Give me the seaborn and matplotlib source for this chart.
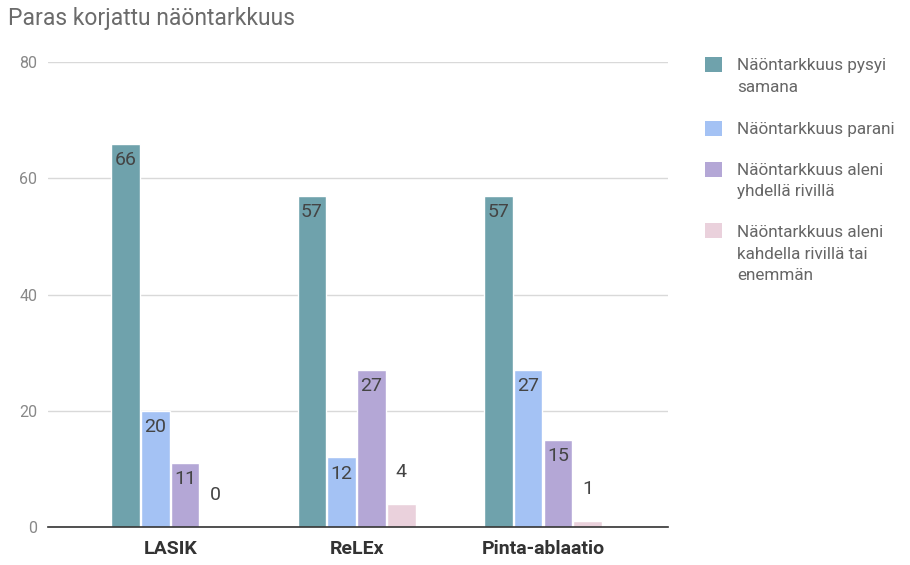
import seaborn as sns
import matplotlib.pyplot as plt
import pandas as pd
from matplotlib.legend_handler import HandlerPatch
from matplotlib.patches import Rectangle

methods = ["LASIK", "ReLEx", "Pinta-ablaatio"]
outcomes = [
    "Näöntarkkuus pysyi\nsamana",
    "Näöntarkkuus parani",
    "Näöntarkkuus aleni\nyhdellä rivillä",
    "Näöntarkkuus aleni\nkahdella rivillä tai\nenemmän",
]
pysyi = [66, 57, 57]
parani = [20, 12, 27]
aleni_1 = [11, 27, 15]
aleni_2 = [0, 4, 1]

colors = ["#6fa2ac", "#a4c2f4", "#b4a7d6", "#ead1dc"]

rows = []
for outcome, vals in zip(outcomes, [pysyi, parani, aleni_1, aleni_2]):
    for m, v in zip(methods, vals):
        rows.append({"Menetelmä": m, "Tulos": outcome, "Määrä": v})
df = pd.DataFrame(rows)

sns.set_style("white")
plt.rcParams["font.family"] = ["Roboto", "DejaVu Sans"]

LINESP = 1.56


class TopSquare(HandlerPatch):
    # put the legend square next to the first line of a multi-line label
    def __init__(self, nlines, spacing=LINESP):
        super().__init__()
        self.nlines = nlines
        self.spacing = spacing

    def create_artists(self, legend, orig_handle, xdescent, ydescent,
                       width, height, fontsize, trans):
        shift = (self.nlines - 1) * self.spacing * 0.9 * fontsize / 2
        p = Rectangle((-xdescent, -ydescent + shift), width, height,
                      facecolor=orig_handle.get_facecolor(), edgecolor="none",
                      transform=trans)
        return [p]


fig = plt.figure(figsize=(9.1, 5.65), dpi=100)
ax = fig.add_axes([0.053, 0.067, 0.681, 0.823])

sns.barplot(data=df, x="Menetelmä", y="Määrä", hue="Tulos", palette=colors,
            width=0.64, gap=0.04, saturation=1, ax=ax, legend=True)

# value labels: inside top for tall bars, above for small ones
for cont in ax.containers:
    for bar in cont:
        h = bar.get_height()
        cx = bar.get_x() + bar.get_width() / 2
        y = h - 2.8 if h >= 8 else h + 5.5
        ax.text(cx, y, f"{h:.0f}", ha="center", va="center",
                fontsize=14, color="#444444")

ax.set_ylim(0, 80)
ax.set_xlim(-0.654, 2.67)
ax.set_yticks([0, 20, 40, 60, 80])
ax.yaxis.grid(True, color="#d9d9d9", linewidth=1)
ax.set_axisbelow(True)
for s in ["top", "right", "left"]:
    ax.spines[s].set_visible(False)
ax.spines["bottom"].set_color("#333333")
ax.spines["bottom"].set_linewidth(1.2)
ax.tick_params(axis="y", length=0, labelsize=11.5, labelcolor="#888888", pad=8)
ax.tick_params(axis="x", length=0, labelsize=14, labelcolor="#333333", pad=9)
for t in ax.get_xticklabels():
    t.set_fontweight("bold")
ax.set_xlabel("")
ax.set_ylabel("")

handles, labels = ax.get_legend_handles_labels()
ax.legend_.remove()
hmap = {h: TopSquare(lab.count("\n") + 1) for h, lab in zip(handles, labels)}
leg = fig.legend(handles, labels, loc="upper left", bbox_to_anchor=(0.775, 0.897),
                 frameon=False, fontsize=12.3, labelcolor="#666666",
                 borderpad=0, borderaxespad=0,
                 handlelength=1.0, handleheight=1.0, handletextpad=0.85,
                 labelspacing=1.5, handler_map=hmap)
for t in leg.get_texts():
    t.set_linespacing(LINESP)

fig.text(0.009, 0.968, "Paras korjattu näöntarkkuus", fontsize=16.5,
         color="#6b6b6b", ha="left", va="center")

fig.savefig("out.png", dpi=100)
